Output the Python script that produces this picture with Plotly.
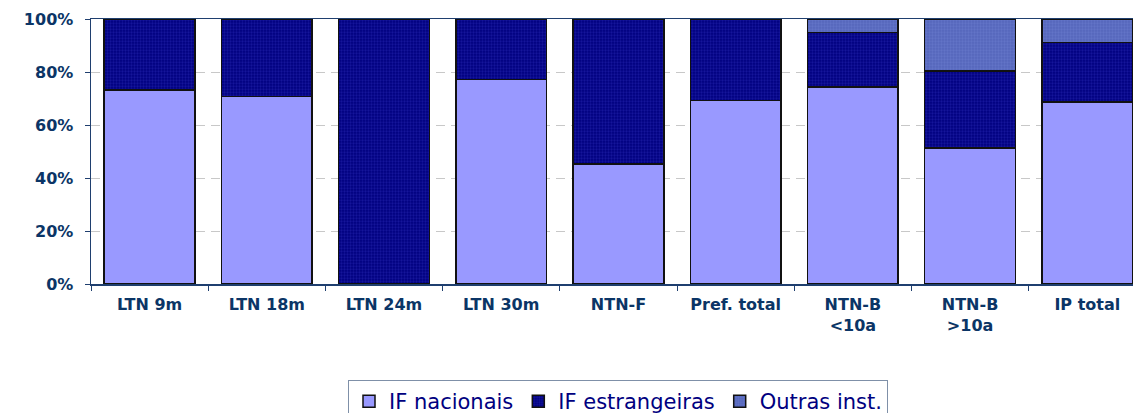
import plotly.graph_objects as go

categories = ["LTN 9m", "LTN 18m", "LTN 24m", "LTN 30m", "NTN-F", "Pref. total",
              "NTN-B <10a", "NTN-B >10a", "IP total"]
tick_labels = ["LTN 9m", "LTN 18m", "LTN 24m", "LTN 30m", "NTN-F", "Pref. total",
               "NTN-B<br>&lt;10a", "NTN-B<br>&gt;10a", "IP total"]
if_nacionais = [73.3, 70.8, 0.0, 77.1, 45.3, 69.2, 74.4, 51.4, 68.7]
if_estrangeiras = [26.7, 29.2, 100.0, 22.9, 54.7, 30.8, 20.6, 28.9, 22.5]
outras_inst = [0.0, 0.0, 0.0, 0.0, 0.0, 0.0, 5.0, 19.7, 8.8]
y_ticks = [0, 20, 40, 60, 80, 100]
y_tick_labels = ["0%", "20%", "40%", "60%", "80%", "100%"]

navy_txt = "#0b3566"
outline = dict(color="#111111", width=1.5)

fig = go.Figure()
fig.add_trace(go.Bar(
    name="IF nacionais", x=categories, y=if_nacionais, width=0.774,
    marker=dict(color="#9999ff", line=outline),
))
fig.add_trace(go.Bar(
    name="IF estrangeiras", x=categories, y=if_estrangeiras, width=0.774,
    marker=dict(color="#000080", line=outline,
                pattern=dict(shape=".", fgcolor="#2a2ab4", bgcolor="#000080",
                             size=3, solidity=0.45)),
))
fig.add_trace(go.Bar(
    name="Outras inst.", x=categories, y=outras_inst, width=0.774,
    marker=dict(color="#5566bb", line=outline,
                pattern=dict(shape=".", fgcolor="#6f82d4", bgcolor="#5566bb",
                             size=3, solidity=0.45)),
))

fig.update_layout(
    barmode="stack",
    width=1133, height=413,
    margin=dict(l=91, r=0, t=19, b=129, autoexpand=False),
    plot_bgcolor="white", paper_bgcolor="white",
    font=dict(family="DejaVu Sans", color=navy_txt),
    showlegend=True,
    hovermode=False,
    legend=dict(
        orientation="h", xref="container", yref="container",
        x=618 / 1133, xanchor="center", y=1 - 380 / 413, yanchor="top",
        font=dict(family="DejaVu Sans", size=21, color="#000080"),
        bordercolor="#7f90a8", borderwidth=1, bgcolor="white",
        traceorder="normal",
    ),
)
fig.update_xaxes(
    type="category", range=[-0.5, 8.39],
    tickvals=categories, ticktext=tick_labels,
    tickson="boundaries", ticks="outside", ticklen=5, tickcolor="#1f3f6f",
    ticklabelstandoff=5,
    showline=True, linecolor="#1f3f6f", linewidth=1.5, mirror=True,
    showgrid=False,
    tickfont=dict(family="DejaVu Sans", size=16, color=navy_txt, weight="bold"),
)
fig.update_yaxes(
    range=[0, 100], tickvals=y_ticks, ticktext=y_tick_labels,
    ticks="outside", ticklen=5, tickcolor="#1f3f6f", ticklabelstandoff=8,
    showline=True, linecolor="#1f3f6f", linewidth=1.5,
    showgrid=True, gridcolor="#c8c8c8", gridwidth=1, griddash="9px,6px",
    zeroline=False,
    tickfont=dict(family="DejaVu Sans", size=16, color=navy_txt, weight="bold"),
)

# let the figure sit at the page's top-left corner without scrollbars
page_fix = ("document.body.style.margin='0px';"
            "document.documentElement.style.overflow='hidden';"
            "document.body.style.overflow='hidden';")
fig.write_html("out.html", post_script=page_fix,
               config={"displayModeBar": False, "staticPlot": True})
